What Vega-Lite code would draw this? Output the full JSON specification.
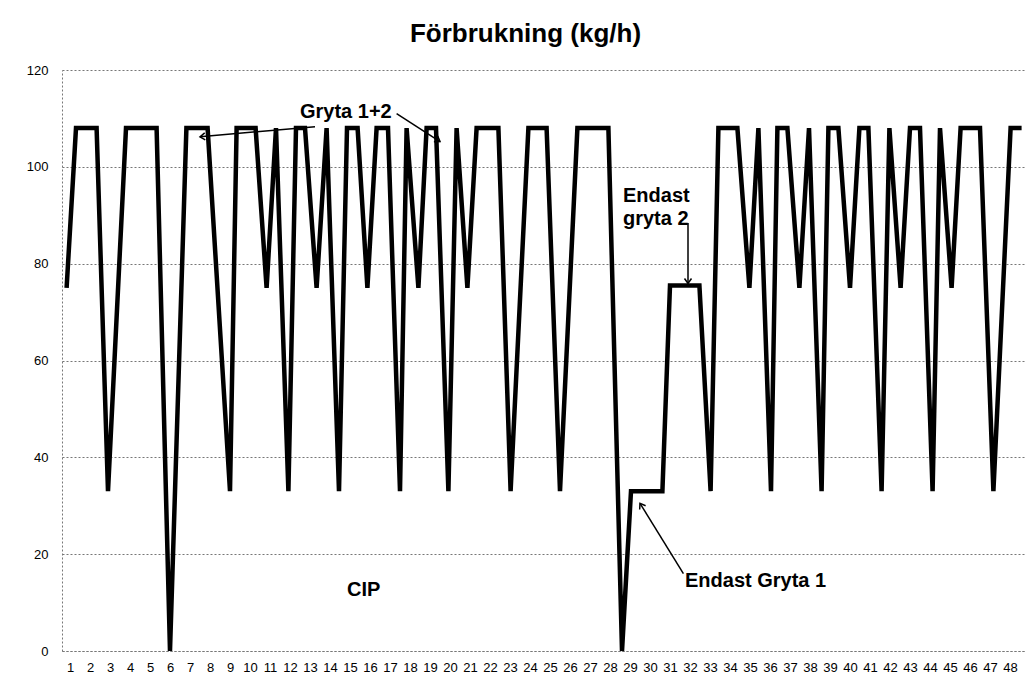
{
  "$schema": "https://vega.github.io/schema/vega-lite/v6.json",
  "width": 963,
  "height": 581,
  "autosize": {"type": "none"},
  "padding": {"left": 62, "top": 70, "right": 5, "bottom": 42},
  "background": "white",
  "title": {"text": "Förbrukning (kg/h)", "font": "Liberation Sans", "fontSize": 26, "fontWeight": "bold", "color": "black", "anchor": "middle", "offset": 17, "dx": -18},
  "datasets": {
    "series": [
      {"t": 0.83, "kg": 75}, {"t": 1.3, "kg": 108}, {"t": 2.33, "kg": 108}, {"t": 2.9, "kg": 33},
      {"t": 3.8, "kg": 108}, {"t": 5.33, "kg": 108}, {"t": 6.0, "kg": 0}, {"t": 6.82, "kg": 108},
      {"t": 7.88, "kg": 108}, {"t": 9.0, "kg": 33}, {"t": 9.33, "kg": 108}, {"t": 10.28, "kg": 108},
      {"t": 10.83, "kg": 75}, {"t": 11.3, "kg": 108}, {"t": 11.92, "kg": 33}, {"t": 12.3, "kg": 108},
      {"t": 12.75, "kg": 108}, {"t": 13.33, "kg": 75}, {"t": 13.83, "kg": 108}, {"t": 14.45, "kg": 33},
      {"t": 14.85, "kg": 108}, {"t": 15.38, "kg": 108}, {"t": 15.87, "kg": 75}, {"t": 16.33, "kg": 108},
      {"t": 16.9, "kg": 108}, {"t": 17.5, "kg": 33}, {"t": 17.83, "kg": 108}, {"t": 18.42, "kg": 75},
      {"t": 18.83, "kg": 108}, {"t": 19.3, "kg": 108}, {"t": 19.92, "kg": 33}, {"t": 20.33, "kg": 108},
      {"t": 20.87, "kg": 75}, {"t": 21.33, "kg": 108}, {"t": 22.42, "kg": 108}, {"t": 23.03, "kg": 33},
      {"t": 23.92, "kg": 108}, {"t": 24.83, "kg": 108}, {"t": 25.5, "kg": 33}, {"t": 26.37, "kg": 108},
      {"t": 27.92, "kg": 108}, {"t": 28.6, "kg": 0}, {"t": 29.05, "kg": 33}, {"t": 30.62, "kg": 33},
      {"t": 31.0, "kg": 75.5}, {"t": 32.47, "kg": 75.5}, {"t": 33.03, "kg": 33}, {"t": 33.42, "kg": 108},
      {"t": 34.37, "kg": 108}, {"t": 34.97, "kg": 75}, {"t": 35.42, "kg": 108}, {"t": 36.05, "kg": 33},
      {"t": 36.37, "kg": 108}, {"t": 36.87, "kg": 108}, {"t": 37.47, "kg": 75}, {"t": 37.95, "kg": 108},
      {"t": 38.58, "kg": 33}, {"t": 38.92, "kg": 108}, {"t": 39.42, "kg": 108}, {"t": 40.0, "kg": 75},
      {"t": 40.47, "kg": 108}, {"t": 40.92, "kg": 108}, {"t": 41.58, "kg": 33}, {"t": 41.97, "kg": 108},
      {"t": 42.53, "kg": 75}, {"t": 43.0, "kg": 108}, {"t": 43.5, "kg": 108}, {"t": 44.13, "kg": 33},
      {"t": 44.5, "kg": 108}, {"t": 45.08, "kg": 75}, {"t": 45.53, "kg": 108}, {"t": 46.5, "kg": 108},
      {"t": 47.17, "kg": 33}, {"t": 48.03, "kg": 108}, {"t": 48.58, "kg": 108}
    ],
    "arrows": [
      {"id": "a1", "t": 13.25, "kg": 108.3, "t2": 7.5, "kg2": 106.2},
      {"id": "a2", "t": 17.33, "kg": 111.0, "t2": 19.5, "kg2": 105.2},
      {"id": "a3", "t": 31.9, "kg": 88.4, "t2": 31.9, "kg2": 75.9},
      {"id": "a4", "t": 31.67, "kg": 16.0, "t2": 29.5, "kg2": 30.5}
    ],
    "notes": [
      {"t": 12.5, "kg": 110.0, "label": "Gryta 1+2"},
      {"t": 28.65, "kg": 92.7, "label": "Endast"},
      {"t": 28.65, "kg": 88.0, "label": "gryta 2"},
      {"t": 31.75, "kg": 13.2, "label": "Endast Gryta 1"},
      {"t": 14.85, "kg": 11.3, "label": "CIP"}
    ]
  },
  "encoding": {
    "x": {"field": "t", "type": "quantitative",
          "scale": {"domain": [0.6, 48.75], "nice": false, "zero": false},
          "axis": {"values": [1,2,3,4,5,6,7,8,9,10,11,12,13,14,15,16,17,18,19,20,21,22,23,24,25,26,27,28,29,30,31,32,33,34,35,36,37,38,39,40,41,42,43,44,45,46,47,48],
                   "title": null, "grid": false, "ticks": false, "labelPadding": 10,
                   "labelFont": "Liberation Sans", "labelFontSize": 13, "labelColor": "black",
                   "domainColor": "#777", "domainDash": [2, 2], "domainWidth": 1,
                   "labelOverlap": false, "labelSeparation": 0, "labelBound": false}},
    "y": {"field": "kg", "type": "quantitative",
          "scale": {"domain": [0, 120], "nice": false},
          "axis": {"values": [0, 20, 40, 60, 80, 100, 120], "title": null, "ticks": false,
                   "labelPadding": 14, "labelFont": "Liberation Sans", "labelFontSize": 13, "labelColor": "black",
                   "grid": true, "gridColor": "#777", "gridDash": [2, 2], "gridWidth": 1,
                   "domainColor": "#777", "domainDash": [2, 2], "domainWidth": 1}}
  },
  "layer": [
    {
      "data": {"name": "series"},
      "mark": {"type": "line", "color": "black", "strokeWidth": 4.5, "clip": false}
    },
    {
      "data": {"name": "arrows"},
      "mark": {"type": "rule", "color": "black", "strokeWidth": 1.5},
      "encoding": {
        "x2": {"field": "t2"},
        "y2": {"field": "kg2"}
      }
    },
    {
      "data": {"name": "arrows"},
      "transform": [{"filter": "datum.id === 'a1'"}],
      "mark": {"type": "point", "shape": "M -1 -0.7 L 0 0 L -1 0.7", "filled": false, "stroke": "black", "strokeWidth": 1.5, "size": 100, "angle": 175, "opacity": 1},
      "encoding": {"x": {"field": "t2", "type": "quantitative"}, "y": {"field": "kg2", "type": "quantitative"}}
    },
    {
      "data": {"name": "arrows"},
      "transform": [{"filter": "datum.id === 'a2'"}],
      "mark": {"type": "point", "shape": "M -1 -0.7 L 0 0 L -1 0.7", "filled": false, "stroke": "black", "strokeWidth": 1.5, "size": 100, "angle": 33, "opacity": 1},
      "encoding": {"x": {"field": "t2", "type": "quantitative"}, "y": {"field": "kg2", "type": "quantitative"}}
    },
    {
      "data": {"name": "arrows"},
      "transform": [{"filter": "datum.id === 'a3'"}],
      "mark": {"type": "point", "shape": "M -1 -0.7 L 0 0 L -1 0.7", "filled": false, "stroke": "black", "strokeWidth": 1.5, "size": 100, "angle": 90, "opacity": 1},
      "encoding": {"x": {"field": "t2", "type": "quantitative"}, "y": {"field": "kg2", "type": "quantitative"}}
    },
    {
      "data": {"name": "arrows"},
      "transform": [{"filter": "datum.id === 'a4'"}],
      "mark": {"type": "point", "shape": "M -1 -0.7 L 0 0 L -1 0.7", "filled": false, "stroke": "black", "strokeWidth": 1.5, "size": 100, "angle": 238, "opacity": 1},
      "encoding": {"x": {"field": "t2", "type": "quantitative"}, "y": {"field": "kg2", "type": "quantitative"}}
    },
    {
      "data": {"name": "notes"},
      "mark": {"type": "text", "align": "left", "baseline": "alphabetic", "font": "Liberation Sans", "fontSize": 20, "fontWeight": "bold", "color": "black"},
      "encoding": {
        "text": {"field": "label"}
      }
    }
  ],
  "config": {"view": {"stroke": null}, "axisX": {"labelOverlap": false, "labelSeparation": 0}}
}
